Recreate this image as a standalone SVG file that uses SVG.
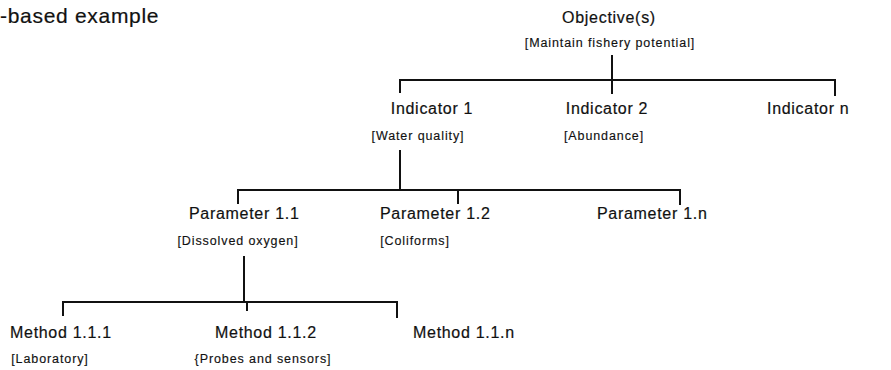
<svg xmlns="http://www.w3.org/2000/svg" width="891" height="370" viewBox="0 0 891 370">
<style>
.lbl{font-family:"Liberation Sans",Arial,sans-serif;font-size:16px;letter-spacing:0.7px;fill:#111;stroke:#111;stroke-width:0.2px}
.sub{font-family:"Liberation Sans",Arial,sans-serif;font-size:12.5px;letter-spacing:0.9px;fill:#111;stroke:#111;stroke-width:0.15px}
.ttl{font-family:"Liberation Sans",Arial,sans-serif;font-size:21px;letter-spacing:0.7px;fill:#111;stroke:#111;stroke-width:0.2px}
.c{text-anchor:middle}
.ln{stroke:#111;stroke-width:2;fill:none}
</style>
<rect width="891" height="370" fill="#fff"/>
<text class="ttl" x="0" y="23">-based example</text>
<g id="connectors">
<path class="ln" d="M612,55V94M400,93V80H835V96"/>
<path class="ln" d="M400,150V190M238,204V190H680V205M458,190V204"/>
<path class="ln" d="M244,256V302M63,316V302H397V318M247,302V311"/>
</g>
<g id="objective"><text class="lbl c" x="609" y="23">Objective(s)</text><text class="sub c" x="610" y="47">[Maintain fishery potential]</text></g>
<g id="indicator1"><text class="lbl c" x="432" y="114">Indicator 1</text><text class="sub c" x="418" y="140">[Water quality]</text></g>
<g id="indicator2"><text class="lbl c" x="607" y="114">Indicator 2</text><text class="sub c" x="604" y="140">[Abundance]</text></g>
<g id="indicatorn"><text class="lbl" x="767" y="114">Indicator n</text></g>
<g id="param11"><text class="lbl" x="189" y="219">Parameter 1.1</text><text class="sub c" x="238" y="245">[Dissolved oxygen]</text></g>
<g id="param12"><text class="lbl" x="380" y="219">Parameter 1.2</text><text class="sub c" x="415" y="245">[Coliforms]</text></g>
<g id="param1n"><text class="lbl" x="597" y="219">Parameter 1.n</text></g>
<g id="method111"><text class="lbl" x="10" y="338">Method 1.1.1</text><text class="sub c" x="50" y="363">[Laboratory]</text></g>
<g id="method112"><text class="lbl" x="215" y="338">Method 1.1.2</text><text class="sub c" x="263" y="363">{Probes and sensors]</text></g>
<g id="method11n"><text class="lbl" x="413" y="338">Method 1.1.n</text></g>
</svg>
